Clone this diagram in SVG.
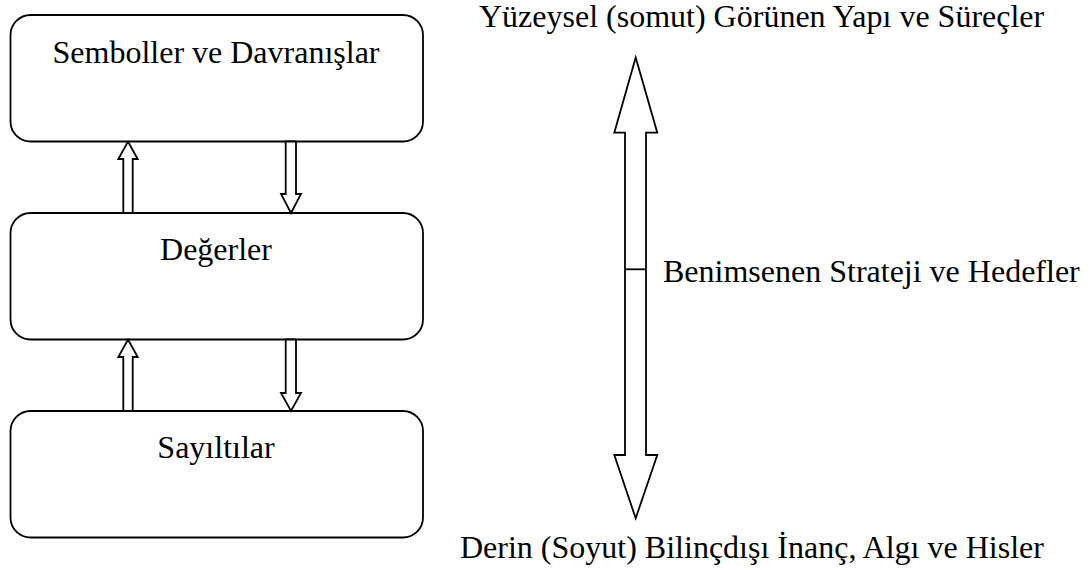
<svg xmlns="http://www.w3.org/2000/svg" width="1090" height="570" viewBox="0 0 1090 570">
<style>
.box{fill:#fff;stroke:#000;stroke-width:1.8}
.arr{fill:#fff;stroke:#000;stroke-width:1.8;stroke-linejoin:miter}
.t{font-family:"Liberation Serif","Times New Roman",serif;font-size:32px;fill:#000}
.c{text-anchor:middle}
</style>
<rect width="1090" height="570" fill="#fff"/>
<g id="node-semboller">
<rect class="box" x="10.5" y="15" width="412.5" height="126.5" rx="20" ry="20"/>
<text class="t c" x="216" y="63">Semboller ve Davranışlar</text>
</g>
<g id="node-degerler">
<rect class="box" x="10.5" y="213" width="412.5" height="126.5" rx="20" ry="20"/>
<text class="t c" x="216" y="260">Değerler</text>
</g>
<g id="node-sayiltilar">
<rect class="box" x="10.5" y="411" width="412.5" height="126.5" rx="20" ry="20"/>
<text class="t c" x="216" y="458">Sayıltılar</text>
</g>
<g id="connectors">
<polygon class="arr" points="128,141.5 137.7,159 132.7,159 132.7,213 123.3,213 123.3,159 118.3,159"/>
<polygon class="arr" points="285.7,141.5 296,141.5 296,194 301,194 291,213 281,194 285.7,194"/>
<polygon class="arr" points="128,339.5 137.7,357 132.7,357 132.7,411 123.3,411 123.3,357 118.3,357"/>
<polygon class="arr" points="285.7,339.5 296,339.5 296,393 301,393 291,411 281,393 285.7,393"/>
<polygon class="arr" points="635.7,57.5 657.3,132.7 646,132.7 646,455 657.3,455 635.7,518.3 614.3,455 625,455 625,132.7 614.3,132.7"/>
<line x1="625" y1="269.3" x2="646" y2="269.3" stroke="#000" stroke-width="1.8"/>
</g>
<g id="labels">
<text class="t" x="479" y="27">Yüzeysel (somut) Görünen Yapı ve Süreçler</text>
<text class="t" x="663" y="282">Benimsenen Strateji ve Hedefler</text>
<text class="t" x="460" y="558">Derin (Soyut) Bilinçdışı İnanç, Algı ve Hisler</text>
</g>
</svg>
